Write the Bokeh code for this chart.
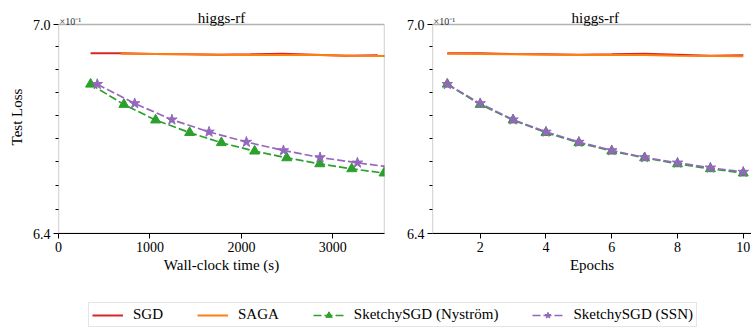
from bokeh.plotting import figure
from bokeh.models import (Range1d, FixedTicker, CustomJSTickFormatter, Label,
                          BoxAnnotation, Legend, LegendItem)
from bokeh.layouts import column, row
from bokeh.embed import file_html
from bokeh.resources import INLINE

# ---------------- data ----------------
epochs = [1, 2, 3, 4, 5, 6, 7, 8, 9, 10]

sgd_time = [351, 700, 1050, 1400, 1750, 2100, 2450, 2800, 3140, 3490]
sgd_loss = [0.6914, 0.6914, 0.6912, 0.6911, 0.6910, 0.6911, 0.6913, 0.6910, 0.6907, 0.6908]

saga_time = [680, 1040, 1400, 1760, 2120, 2480, 2840, 3200, 3560, 3920]
saga_loss = [0.6913, 0.6912, 0.6911, 0.6910, 0.6909, 0.6909, 0.6909, 0.6907, 0.6906, 0.6905]

nys_time = [351, 715, 1062, 1434, 1781, 2145, 2496, 2857, 3207, 3560]
nys_loss = [0.6823, 0.6764, 0.6719, 0.6683, 0.6654, 0.6630, 0.6611, 0.6594, 0.6580, 0.6568]

ssn_time = [424, 833, 1240, 1646, 2055, 2460, 2860, 3269, 3677, 4085]
ssn_loss = [0.6823, 0.6767, 0.6720, 0.6685, 0.6656, 0.6632, 0.6612, 0.6597, 0.6583, 0.6571]

title_text = "higgs-rf"
y_label = "Test Loss"
x_labels = ["Wall-clock time (s)", "Epochs"]
time_ticks = [0, 1000, 2000, 3000]
epoch_ticks = [2, 4, 6, 8, 10]
y_lo, y_hi = 0.64, 0.70
names = ["SGD", "SAGA", "SketchySGD (Nyström)", "SketchySGD (SSN)"]
colors = ["#d62728", "#ff7f0e", "#2ca02c", "#9467bd"]

FONT = "Liberation Serif"
minor_y = [y_lo + k * (y_hi - y_lo) / 9 for k in range(1, 9)]

# layout geometry (pixels)
AXES_H = 209          # height of the drawn axes box
HEAD = 24             # room above the box for title / offset text
FOOT = 48
y_top = y_hi * (y_hi / y_lo) ** (HEAD / AXES_H)   # log-scale extension for the headroom


def make_fig(width, x_lo, x_hi, box_right, xticks, xs_sets, xlabel,
             left_border, right_border, show_ylabel):
    p = figure(width=width, height=HEAD + AXES_H + FOOT, title=None,
               x_range=Range1d(x_lo, x_hi), y_range=Range1d(y_lo, y_top),
               y_axis_type="log", output_backend="svg", toolbar_location=None,
               min_border_left=left_border, min_border_right=right_border,
               min_border_top=0, min_border_bottom=FOOT)
    p.xgrid.visible = False
    p.ygrid.visible = False
    p.outline_line_color = None
    p.background_fill_color = "white"
    p.border_fill_color = "white"

    p.xaxis.ticker = FixedTicker(ticks=xticks, minor_ticks=[])
    p.yaxis.ticker = FixedTicker(ticks=[y_lo, y_hi], minor_ticks=minor_y)
    p.yaxis.formatter = CustomJSTickFormatter(code="return (tick*10).toFixed(1);")

    for ax in (p.xaxis[0], p.yaxis[0]):
        ax.axis_line_color = "black"
        ax.axis_line_width = 1
        ax.major_tick_line_color = "black"
        ax.minor_tick_line_color = "black"
        ax.major_tick_out = 5
        ax.major_tick_in = 0
        ax.minor_tick_out = 3
        ax.minor_tick_in = 0
        ax.major_label_text_font = FONT
        ax.major_label_text_font_size = "14px"
        ax.major_label_text_color = "black"
        ax.major_label_standoff = 3
        ax.axis_label_text_font = FONT
        ax.axis_label_text_font_size = "15px"
        ax.axis_label_text_font_style = "normal"
        ax.axis_label_text_color = "black"
    p.yaxis.axis_line_color = None
    p.xaxis.axis_label = xlabel
    p.xaxis.axis_label_standoff = 2
    if show_ylabel:
        p.yaxis.axis_label = y_label
        p.yaxis.axis_label_standoff = 5

    # axes box (spines)
    p.add_layout(BoxAnnotation(left=x_lo, right=box_right, bottom=y_lo, top=y_hi,
                               fill_alpha=0, line_color="black", line_width=1.3,
                               level="overlay"))

    xs_sgd, xs_saga, xs_n, xs_s = xs_sets
    p.line(xs_sgd, sgd_loss, line_color=colors[0], line_width=2)
    p.line(xs_saga, saga_loss, line_color=colors[1], line_width=2)
    p.line(xs_n, nys_loss, line_color=colors[2], line_width=1.7, line_dash="8 3")
    p.scatter(xs_n, nys_loss, marker="triangle", size=10, fill_color=colors[2],
              line_color=colors[2])
    p.line(xs_s, ssn_loss, line_color=colors[3], line_width=1.7, line_dash="8 3")
    p.scatter(xs_s, ssn_loss, marker="star", size=11, fill_color=colors[3],
              line_color=colors[3])

    # title and offset text
    p.add_layout(Label(x=(x_lo + box_right) / 2, y=y_hi, y_offset=7, text=title_text,
                       text_align="center", text_baseline="alphabetic",
                       text_font=FONT, text_font_size="15px", text_color="black"))
    p.add_layout(Label(x=x_lo, y=y_hi, x_offset=1, y_offset=3, text="×10⁻¹",
                       text_align="left", text_baseline="alphabetic", text_font=FONT,
                       text_font_size="10px", text_color="#333333"))
    return p


p1 = make_fig(403, 0, 3565, 3565, time_ticks,
              (sgd_time, saga_time, nys_time, ssn_time), x_labels[0], 58, 19, True)
p2 = make_fig(348, 0.55, 10.25, 10.45, epoch_ticks,
              (epochs, epochs, epochs, epochs), x_labels[1], 29, 0, False)

# legend figure (proxy renderers lie outside its visible range)
pl = figure(width=751, height=48, title=None, toolbar_location=None,
            output_backend="svg", min_border=0, x_range=Range1d(-2, -1),
            y_range=Range1d(0, 1), x_axis_location=None, y_axis_location=None)
pl.outline_line_color = None
pl.xgrid.visible = False
pl.ygrid.visible = False
r_sgd = pl.line(epochs, sgd_loss, line_color=colors[0], line_width=2)
r_saga = pl.line(epochs, saga_loss, line_color=colors[1], line_width=2)
r_nl = pl.line(epochs, nys_loss, line_color=colors[2], line_width=1.7, line_dash="8 3")
r_nm = pl.scatter(epochs, nys_loss, marker="triangle", size=10, fill_color=colors[2],
                  line_color=colors[2])
r_sl = pl.line(epochs, ssn_loss, line_color=colors[3], line_width=1.7, line_dash="8 3")
r_sm = pl.scatter(epochs, ssn_loss, marker="star", size=11, fill_color=colors[3],
                  line_color=colors[3])

legend = Legend(items=[
    LegendItem(label=names[0], renderers=[r_sgd]),
    LegendItem(label=names[1], renderers=[r_saga]),
    LegendItem(label=names[2], renderers=[r_nl, r_nm]),
    LegendItem(label=names[3], renderers=[r_sl, r_sm]),
], orientation="horizontal", location=(88, 2))
legend.label_text_font = FONT
legend.label_text_font_size = "15px"
legend.label_text_color = "black"
legend.label_height = 16
legend.glyph_height = 16
legend.glyph_width = 31
legend.label_standoff = 10
legend.spacing = 34
legend.padding = 3
legend.margin = 0
legend.border_line_color = "#cccccc"
legend.border_line_width = 1
legend.background_fill_color = "white"
legend.background_fill_alpha = 1
pl.add_layout(legend, "center")

layout = column(row(p1, p2), pl)
open("out.html", "w").write(file_html(layout, INLINE))
